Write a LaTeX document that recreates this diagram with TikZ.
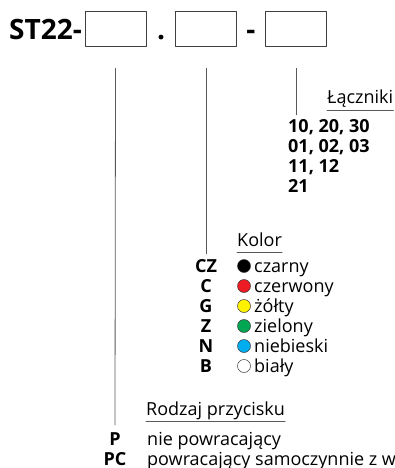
\documentclass[tikz,border=0pt]{standalone}
\usepackage{fontspec}
\setmainfont{Open Sans}
\definecolor{czerw}{HTML}{ED1C24}
\definecolor{zolty}{HTML}{FFF200}
\definecolor{ziel}{HTML}{00A651}
\definecolor{nieb}{HTML}{00AEEF}
\tikzset{
  pole/.style={draw=black!75, line width=.8pt, minimum width=61pt, minimum height=35pt, inner sep=0pt},
  tyt/.style={font=\fontsize{28}{30}\selectfont\bfseries, inner sep=0pt},
  kod/.style={font=\fontsize{18}{20}\selectfont\bfseries, inner sep=0pt},
  opis/.style={font=\fontsize{18}{20}\selectfont, inner sep=0pt},
  linia/.style={draw=black!65, line width=.8pt}
}
\begin{document}
\begin{tikzpicture}[x=1pt,y=-1pt,line cap=round,line join=round]
  \useasboundingbox (0,0) rectangle (395,468);
  \clip (0,0) rectangle (395,468);
  % oznaczenie
  \node[tyt,anchor=base west] (st) at (9,40) {ST22-};
  \node[pole] (b1) at (115.5,28.5) {};
  \node[tyt,anchor=base] (kropka) at (161,40) {.};
  \node[pole] (b2) at (206,28.5) {};
  \node[tyt,anchor=base] (kreska) at (251,40) {-};
  \node[pole] (b3) at (296,28.5) {};
  \foreach \i in {1,2,3}
    \coordinate (t\i) at ([yshift=-22pt]b\i.south);
  % laczniki
  \node[opis,anchor=base west] (lacz) at (327,104) {Łączniki};
  \draw[linia] ([yshift=-6pt]lacz.base west)--([yshift=-6pt]lacz.base east);
  \foreach \t [count=\i] in {{10, 20, 30},{01, 02, 03},{11, 12},21}
    \node[kod,anchor=base west] (n\i) at (288,{132+20.3*(\i-1)}) {\t};
  \draw[linia] (t3)--([yshift=4pt]t3 |- n1.north);
  % kolor
  \node[opis,anchor=base west] (kol) at (237,246) {Kolor};
  \draw[linia] ([yshift=-6pt]kol.base west)--([yshift=-6pt]kol.base east);
  \foreach \k/\c/\t [count=\i] in {CZ/black/czarny,C/czerw/czerwony,G/zolty/żółty,Z/ziel/zielony,N/nieb/niebieski,B/white/biały}{
    \node[kod,anchor=base] (k\i) at (206,{272+20*(\i-1)}) {\k};
    \draw[black!80,line width=.5pt,fill=\c] (244,{266+20*(\i-1)}) circle (6.5pt);
    \node[opis,anchor=base west] (c\i) at (254,{272+20*(\i-1)}) {\t};
  }
  \draw[linia] (t2)--([yshift=5pt]k1.north);
  % rodzaj
  \node[opis,anchor=base west] (rodz) at (146,415) {Rodzaj przycisku};
  \draw[linia] ([yshift=-6.5pt]rodz.base west)--([yshift=-6.5pt]rodz.base east);
  \node[kod,anchor=base] (p1) at (115,445) {P};
  \node[opis,anchor=base west] (r1) at (147,445) {nie powracający};
  \node[kod,anchor=base] (p2) at (115,465) {PC};
  \node[opis,anchor=base west] (r2) at (147,465) {powracający samoczynnie z w};
  \draw[linia] (t1)--([yshift=7pt]p1.north);
\end{tikzpicture}
\end{document}
